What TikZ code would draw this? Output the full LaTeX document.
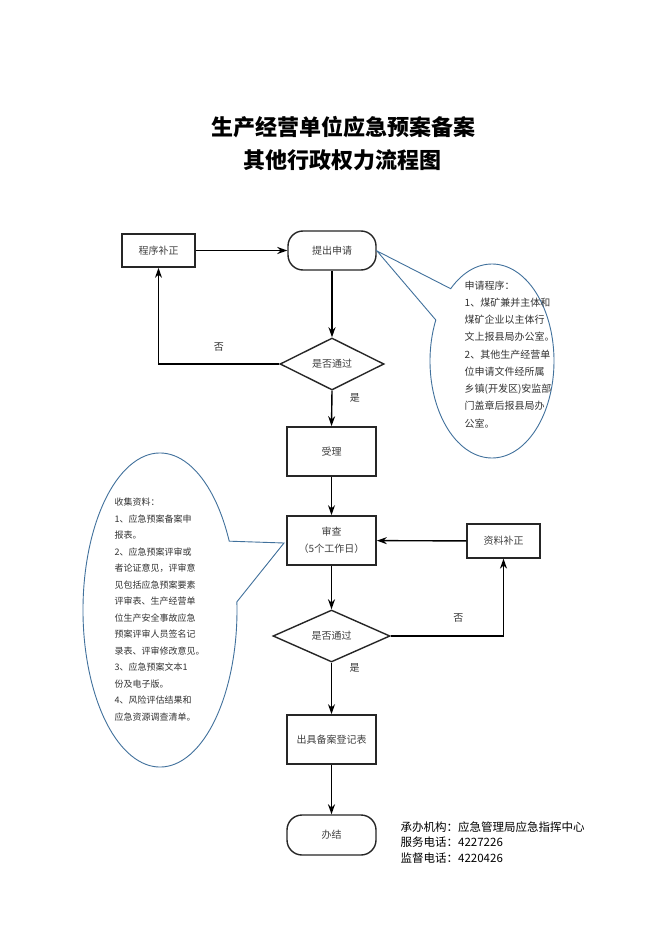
\documentclass[tikz,border=0pt]{standalone}
\usepackage{fontspec}
\setmainfont{Noto Sans CJK SC}
\usetikzlibrary{arrows.meta,shapes.geometric,calc}

\definecolor{callblue}{HTML}{41719C}

\begin{document}
\begin{tikzpicture}[x=1pt,y=-1pt,>={Stealth[length=10pt,width=7pt]},line width=1.4pt,
    box/.style={draw=black!85,line width=1.7pt,minimum width=89pt,minimum height=49pt,
      inner sep=0pt,align=center,text=black!75,font=\fontsize{10}{17}\selectfont},
    smallbox/.style={box,minimum width=73pt,minimum height=34pt},
    endbox/.style={box,line width=1.4pt,rounded corners=15pt,minimum height=39pt},
    decision/.style={diamond,draw=black!85,line width=1.4pt,inner sep=0pt,aspect=2,
      text=black!75,font=\fontsize{10}{12}\selectfont},
    callout/.style={draw=callblue,line width=0.9pt,fill=white},
    note/.style={inner sep=0pt,align=left,text=black!80,anchor=north west},
    lbl/.style={font=\fontsize{10}{12}\selectfont,text=black!80}]
  \useasboundingbox[fill=white] (0,0) rectangle (662,936);

  % title
  \node[font=\fontsize{22}{26}\selectfont\bfseries] (title1) at (343,127) {生产经营单位应急预案备案};
  \node[font=\fontsize{22}{26}\selectfont\bfseries] (title2) at (342,160) {其他行政权力流程图};

  % flow
  \node[smallbox,minimum height=33pt] (buzheng) at (158.5,250.5) {程序补正};
  \node[endbox,minimum width=88pt] (tichu) at (332,250.5) {提出申请};
  \node[decision,minimum width=104pt,minimum height=52pt] (pass1) at (332,364) {是否通过};
  \node[box] (shouli) at (331.5,451.5) {受理};
  \node[box] (shencha) at (331.5,540.5) {审查\\（5个工作日）};
  \node[smallbox,line width=1.3pt] (ziliao) at (503.5,541) {资料补正};
  \node[decision,minimum width=117pt,minimum height=52pt] (pass2) at (331.5,636) {是否通过};
  \node[box] (chuju) at (331.5,739.5) {出具备案登记表};
  \node[endbox,minimum height=40pt] (banjie) at (331.5,835) {办结};

  \draw[->] (buzheng) -- (tichu);
  \draw[->] (tichu) -- (pass1);
  \draw[->] (pass1.west) -| node[lbl,pos=0.25,above=9pt] {否} (buzheng.south);
  \draw[->] (pass1.south) -- node[lbl,pos=0.2,right=14pt] {是} (shouli.north);
  \draw[->] (shouli) -- (shencha);
  \draw[->] (ziliao) -- (shencha);
  \draw[->] (shencha) -- (pass2);
  \draw[->] (pass2.east) -| node[lbl,pos=0.3,above=10pt] {否} (ziliao.south);
  \draw[->] (pass2.south) -- node[lbl,pos=0.1,right=14pt] {是} (chuju.north);
  \draw[->] (chuju) -- (banjie);

  % notes
  \coordinate (tip1) at (377,251);
  \coordinate (tip2) at (284,543);
  \draw[callout] (tip1) -- ($(492,361)+(228.2:62 and 97)$) arc[start angle=228.2,end angle=565,x radius=62,y radius=97] -- cycle;
  \draw[callout] (tip2) -- ($(160,610)+(-26:77 and 157)$) arc[start angle=-26,end angle=-363,x radius=77,y radius=157] -- cycle;

  \node[note,font=\fontsize{10}{17.25}\selectfont] (shenqing) at (464,280)
    {申请程序：\\1、煤矿兼并主体和\\煤矿企业以主体行\\文上报县局办公室。\\2、其他生产经营单\\位申请文件经所属\\乡镇(开发区)安监部\\门盖章后报县局办\\公室。};
  \node[note,font=\fontsize{9}{16.5}\selectfont] (shouji) at (114,497.5)
    {收集资料：\\1、应急预案备案申\\报表。\\2、应急预案评审或\\者论证意见，评审意\\见包括应急预案要素\\评审表、生产经营单\\位生产安全事故应急\\预案评审人员签名记\\录表、评审修改意见。\\3、应急预案文本1\\份及电子版。\\4、风险评估结果和\\应急资源调查清单。};

  \node[note,text=black,font=\fontsize{11.5}{15.5}\selectfont] (lianxi) at (400,821)
    {承办机构：应急管理局应急指挥中心\\服务电话：4227226\\监督电话：4220426};
\end{tikzpicture}
\end{document}
